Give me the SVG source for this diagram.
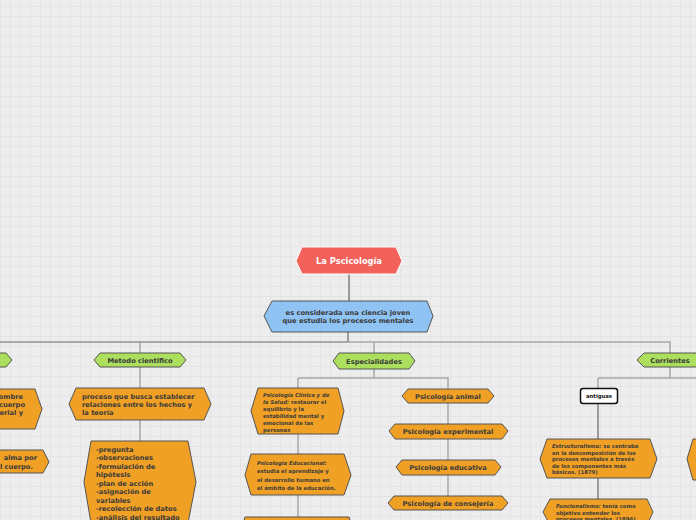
<svg xmlns="http://www.w3.org/2000/svg" width="696" height="520" viewBox="0 0 696 520">
<defs>
<pattern id="grid" width="10" height="10" patternUnits="userSpaceOnUse" x="0" y="6">
<rect width="10" height="10" fill="#ededed"/>
<path d="M0 0.5H10M0.5 0V10" stroke="#e4e4e4" stroke-width="1" fill="none"/>
</pattern>
<style>
text{font-family:"DejaVu Sans","Verdana",sans-serif;font-weight:bold;fill:#3b3b3b}
.n{stroke:#555;stroke-width:1}
.or{fill:#f0a024}
.gr{fill:#acdf5e}
.c{stroke:#a8a8a8;stroke-width:1.5;fill:none}
.cd{stroke:#666;stroke-width:1.2;fill:none}
.m{text-anchor:middle}
.i{font-style:italic}
.s65{font-size:6.7px}
.s5{font-size:5.3px}
</style>
</defs>
<rect width="696" height="520" fill="url(#grid)"/>

<g id="connectors">
<path class="cd" d="M349 274V301"/>
<path class="cd" d="M348 332V342"/>
<path class="cd" d="M0 342H348"/>
<path class="c" d="M348 342H670V353"/>
<path class="c" d="M140 342V353M140 367V388M140 420V441"/>
<path class="c" d="M374 342V353M374 369V378"/>
<path class="c" d="M298 378H448V496"/>
<path class="c" d="M298 378V389M298 434V454M298 495V517"/>
<path class="c" d="M670 367V378"/>
<path class="c" d="M598 378H696"/>
<path class="c" d="M598 378V388"/>
<path class="cd" d="M598 403V439M598 478V499"/>
</g>

<g id="root">
<polygon points="296,261 302,247 396,247 402,261 396,274 302,274" fill="#f2625a" stroke="#fff" stroke-width="1"/>
<text x="349" y="264" class="m" style="font-size:8.3px;fill:#fff">La Pscicología</text>
</g>

<g id="def">
<polygon class="n" points="264,316 272,301 427,301 433,316 427,332 272,332" fill="#8ec3f3"/>
<text x="348" y="314.5" class="m s65">es considerada una ciencia joven</text>
<text x="348" y="323" class="m s65">que estudia los procesos mentales</text>
</g>

<g id="left-green">
<polygon class="n gr" points="-10,353 6,353 12,360 6,367 -10,367"/>
</g>
<g id="left-1">
<polygon class="n or" points="-10,389 35,389 42,409 35,429 -10,429"/>
<text x="23" y="399" class="s65" text-anchor="end">ombre</text>
<text x="25" y="407" class="s65" text-anchor="end">cuerpo</text>
<text x="23" y="415" class="s65" text-anchor="end">erial y</text>
</g>
<g id="left-2">
<polygon class="n or" points="-10,450 43,450 49,462 43,473 -10,473"/>
<text x="37" y="459.5" class="s65" text-anchor="end">alma por</text>
<text x="33" y="469" class="s65" text-anchor="end">l cuerpo.</text>
</g>

<g id="metodo">
<polygon class="n gr" points="94,360 100,353 180,353 186,360 180,367 100,367"/>
<text x="140" y="362.5" class="m s65">Metodo cientifico</text>
</g>
<g id="proceso">
<polygon class="n or" points="69,404 76,388 204,388 211,404 204,420 76,420"/>
<text x="82" y="398.5" class="s65">proceso que busca establecer</text>
<text x="82" y="406.5" class="s65">relaciones entre los hechos y</text>
<text x="82" y="414.5" class="s65">la teoría</text>
</g>
<g id="pasos">
<polygon class="n or" points="84,482 91,441 188,441 196,482 188,523 91,523"/>
<text class="s65"><tspan x="96" y="451.5">-pregunta</tspan><tspan x="96" y="460">-observaciones</tspan><tspan x="96" y="468.5">-formulación de</tspan><tspan x="96" y="477">hipótesis</tspan><tspan x="96" y="485.5">-plan de acción</tspan><tspan x="96" y="494">-asignación de</tspan><tspan x="96" y="502.5">variables</tspan><tspan x="96" y="511">-recolección de datos</tspan><tspan x="96" y="519.5">-análisis del resultado</tspan></text>
</g>

<g id="especialidades">
<polygon class="n gr" points="333,361 339,353 409,353 415,361 409,369 339,369"/>
<text x="374" y="363.5" class="m s65">Especialidades</text>
</g>
<g id="clinica">
<polygon class="n or" points="251,411 258,388 338,388 344,411 338,434 258,434"/>
<text class="s5"><tspan x="263" y="396.5" class="i">Psicología Clínica y de</tspan><tspan x="263" y="403.5"><tspan class="i">la Salud:</tspan> restaurar el</tspan><tspan x="263" y="410.5">equilibrio y la</tspan><tspan x="263" y="417.5">estabilidad mental y</tspan><tspan x="263" y="424.5">emocional de las</tspan><tspan x="263" y="431.5">personas</tspan></text>
</g>
<g id="educacional">
<polygon class="n or" points="245,475 251,454 344,454 351,475 344,495 251,495"/>
<text class="s5"><tspan x="257" y="465" class="i">Psicología Educacional:</tspan><tspan x="257" y="473">estudia el aprendizaje y</tspan><tspan x="257" y="481.5">el desarrollo humano en</tspan><tspan x="257" y="490">el ámbito de la educación.</tspan></text>
</g>
<g id="esp-next">
<polygon class="n or" points="241,530 245,517 349,517 353,530 349,543 245,543"/>
</g>
<g id="animal">
<polygon class="n or" points="402,396 408,389 488,389 494,396 488,403 408,403"/>
<text x="448" y="398.5" class="m s65">Psicología animal</text>
</g>
<g id="experimental">
<polygon class="n or" points="389,431 395,424 502,424 508,431 502,439 395,439"/>
<text x="448" y="434" class="m s65">Psicología experimental</text>
</g>
<g id="educativa">
<polygon class="n or" points="396,467 402,460 495,460 501,467 495,475 402,475"/>
<text x="448" y="470" class="m s65">Psicología educativa</text>
</g>
<g id="consejeria">
<polygon class="n or" points="388,503 394,496 502,496 508,503 502,510 394,510"/>
<text x="448" y="505.5" class="m s65">Psicología de consejería</text>
</g>

<g id="corrientes">
<polygon class="n gr" points="637,360 644,353 697,353 703,360 697,367 644,367"/>
<text x="670" y="362.5" class="m s65">Corrientes</text>
</g>
<g id="antiguas">
<rect x="580.5" y="388.5" width="37" height="15" rx="2.5" fill="#fff" stroke="#111" stroke-width="1.5"/>
<text x="599" y="398" class="m s5" style="fill:#111">antiguas</text>
</g>
<g id="estructuralismo">
<polygon class="n or" points="540,459 547,439 650,439 657,459 650,478 547,478"/>
<text class="s5"><tspan x="552" y="448"><tspan class="i">Estructuralismo:</tspan> se centraba</tspan><tspan x="552" y="454.5">en la descomposición de los</tspan><tspan x="552" y="461">procesos mentales a través</tspan><tspan x="552" y="467.5">de los componentes más</tspan><tspan x="552" y="474">básicos. (1879)</tspan></text>
</g>
<g id="funcionalismo">
<polygon class="n or" points="543,512 550,499 647,499 653,512 647,525 550,525"/>
<text class="s5"><tspan x="556" y="508"><tspan class="i">Funcionalismo:</tspan>  tenía como</tspan><tspan x="556" y="514.5">objetivo entender los</tspan><tspan x="556" y="521">procesos mentales. (1896)</tspan></text>
</g>
<g id="right-partial">
<polygon class="n or" points="687,459 693,439 710,439 710,480 693,480"/>
</g>
</svg>
